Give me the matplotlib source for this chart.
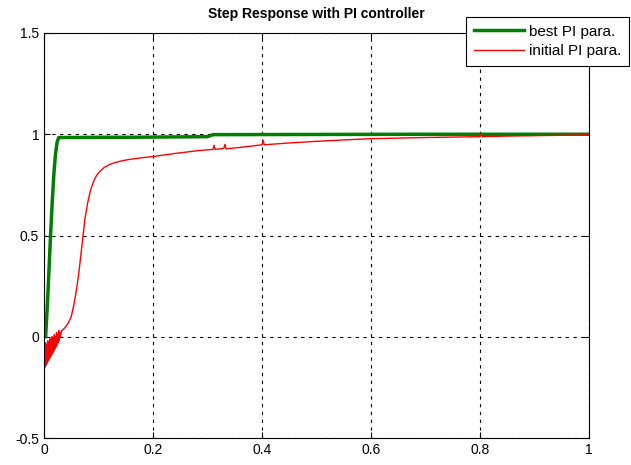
import matplotlib.pyplot as plt

plt.rcParams['font.family'] = ['Liberation Sans', 'DejaVu Sans']

# best PI parameters
best_t = [0, 0.003, 0.006, 0.009, 0.012, 0.015, 0.018, 0.021, 0.024, 0.027,
          0.06, 0.1, 0.15, 0.2, 0.25, 0.3, 0.31, 0.5, 0.7, 0.9, 1.0]
best_y = [0, 0.0, 0.15, 0.32, 0.50, 0.66, 0.80, 0.90, 0.96, 0.984,
          0.984, 0.985, 0.985, 0.986, 0.987, 0.988, 0.998, 0.999, 1.0, 1.0, 1.0]

# initial PI parameters (noisy start, slow rise)
init_t = [0, 0.001, 0.002, 0.003, 0.004, 0.005, 0.006, 0.007, 0.008, 0.009, 0.010,
          0.011, 0.012, 0.013, 0.014, 0.015, 0.016, 0.017, 0.018, 0.019, 0.020,
          0.021, 0.022, 0.023, 0.024, 0.025, 0.026, 0.027, 0.028, 0.029, 0.030,
          0.032, 0.035, 0.040, 0.045, 0.050, 0.055, 0.060, 0.065, 0.070, 0.075,
          0.080, 0.085, 0.090, 0.095, 0.100, 0.110, 0.120, 0.130, 0.145, 0.160,
          0.180, 0.200, 0.240, 0.286, 0.310, 0.312, 0.314, 0.330, 0.332, 0.334,
          0.360, 0.400, 0.402, 0.404, 0.450, 0.500, 0.550, 0.600, 0.650, 0.700,
          0.750, 0.800, 0.802, 0.804, 0.850, 0.900, 0.950, 1.0]
init_y = [0, -0.05, -0.15, -0.03, -0.14, -0.04, -0.13, -0.02, -0.12, -0.03, -0.11,
          -0.01, -0.10, -0.02, -0.09, 0.00, -0.08, -0.01, -0.07, 0.01, -0.06,
          0.00, -0.05, 0.02, -0.04, 0.01, -0.03, 0.03, -0.02, 0.02, 0.00,
          0.03, 0.035, 0.05, 0.07, 0.10, 0.16, 0.24, 0.34, 0.46, 0.58,
          0.66, 0.72, 0.76, 0.79, 0.81, 0.835, 0.85, 0.86, 0.87, 0.877,
          0.884, 0.89, 0.905, 0.92, 0.925, 0.945, 0.925, 0.93, 0.95, 0.928,
          0.935, 0.948, 0.97, 0.948, 0.957, 0.965, 0.972, 0.978, 0.981, 0.984,
          0.986, 0.988, 1.0, 0.988, 0.991, 0.993, 0.995, 0.997]

x_ticks = [0, 0.2, 0.4, 0.6, 0.8, 1]
x_labels = ['0', '0.2', '0.4', '0.6', '0.8', '1']
y_ticks = [-0.5, 0, 0.5, 1, 1.5]
y_labels = ['-0.5', '0', '0.5', '1', '1.5']

fig = plt.figure(figsize=(6.31, 4.65), dpi=100)
ax = fig.add_axes([44 / 631, 1 - 438 / 465, 545 / 631, 405 / 465])

ax.plot(best_t, best_y, color='#007f00', lw=2.5, label='best PI para.')
ax.plot(init_t, init_y, color='red', lw=1, label='initial PI para.')

ax.set_xlim(0, 1)
ax.set_ylim(-0.5, 1.5)
ax.set_xticks(x_ticks)
ax.set_xticklabels(x_labels)
ax.set_yticks(y_ticks)
ax.set_yticklabels(y_labels)
ax.tick_params(direction='in', labelsize=10, length=4, top=True, right=True)
ax.grid(True, color='black', linestyle=(0, (3, 4)), linewidth=0.8)
for s in ax.spines.values():
    s.set_color('black')

ax.set_title('Step Response with PI controller', fontsize=10, fontweight='bold', pad=11)

leg = ax.legend(loc='upper left', bbox_to_anchor=(466 / 631, 1 - 17 / 465),
                bbox_transform=fig.transFigure, fancybox=False, framealpha=1,
                edgecolor='black', fontsize=11, handlelength=3.3,
                borderaxespad=0, borderpad=0.5, handletextpad=0.3,
                labelspacing=0.35)
leg.get_frame().set_linewidth(0.8)

fig.savefig('out.png', dpi=100)
